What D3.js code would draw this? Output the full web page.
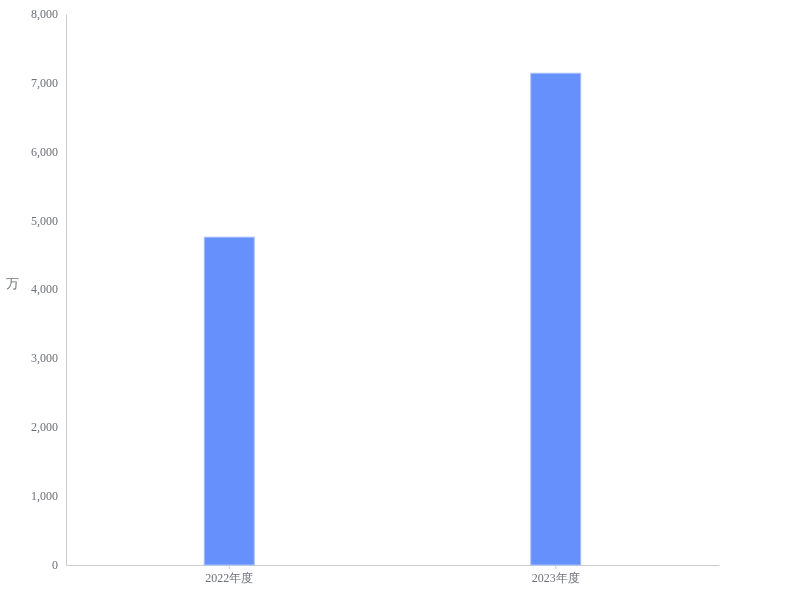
<!DOCTYPE html>
<html><head><meta charset="utf-8">
<script src="https://cdn.jsdelivr.net/npm/d3@7"></script>
<style>body{margin:0;background:#fff;} svg{-webkit-font-smoothing:antialiased;will-change:transform;} text{font-family:"Liberation Serif",serif;}</style>
</head><body>
<svg id="c" width="800" height="600"></svg>
<script>
const categories = ["2022年度", "2023年度"];
const values = [4760, 7140];
const yTicks = [0, 1000, 2000, 3000, 4000, 5000, 6000, 7000, 8000];
const unitLabel = "万";

const svg = d3.select("#c");
const m = {l: 66, r: 81, t: 14, b: 35};
const W = 800, H = 600;
const x = d3.scaleBand().domain(categories).range([m.l, W - m.r]);
const y = d3.scaleLinear().domain([0, 8000]).range([H - m.b, m.t]);
const fmt = d3.format(",");
const txt = "#6e7079";

// y axis
const ya = svg.append("g").attr("transform", `translate(${m.l},0)`)
  .call(d3.axisLeft(y).tickValues(yTicks).tickFormat(fmt).tickSize(0).tickPadding(8));
ya.select(".domain").attr("stroke", "#ccc");
ya.selectAll("text").attr("fill", txt).attr("font-size", 12).attr("dy", "0.28em")
  .attr("font-family", "Liberation Serif, serif");

// x axis
const xa = svg.append("g").attr("transform", `translate(0,${H - m.b})`)
  .call(d3.axisBottom(x).tickSizeOuter(0).tickSizeInner(4).tickPadding(4));
xa.select(".domain").attr("stroke", "#ccc");
xa.selectAll(".tick line").attr("stroke", "#ccc");
xa.selectAll("text").attr("fill", txt).attr("font-size", 12)
  .attr("font-family", "Noto Sans CJK SC, sans-serif");

// bars
const bw = 50;
svg.append("g").selectAll("rect").data(values).join("rect")
  .attr("x", (d, i) => x(categories[i]) + x.bandwidth() / 2 - bw / 2)
  .attr("y", d => y(d))
  .attr("width", bw)
  .attr("height", d => y(0) - y(d))
  .attr("fill", "#6690fc")
  .attr("stroke", "#a9c0fd").attr("stroke-width", 1);

// unit label
svg.append("text").attr("x", 12).attr("y", 288).attr("text-anchor", "middle")
  .attr("fill", txt).attr("font-size", 13)
  .attr("font-family", "Noto Sans CJK SC, sans-serif").text(unitLabel);
</script>
</body></html>
